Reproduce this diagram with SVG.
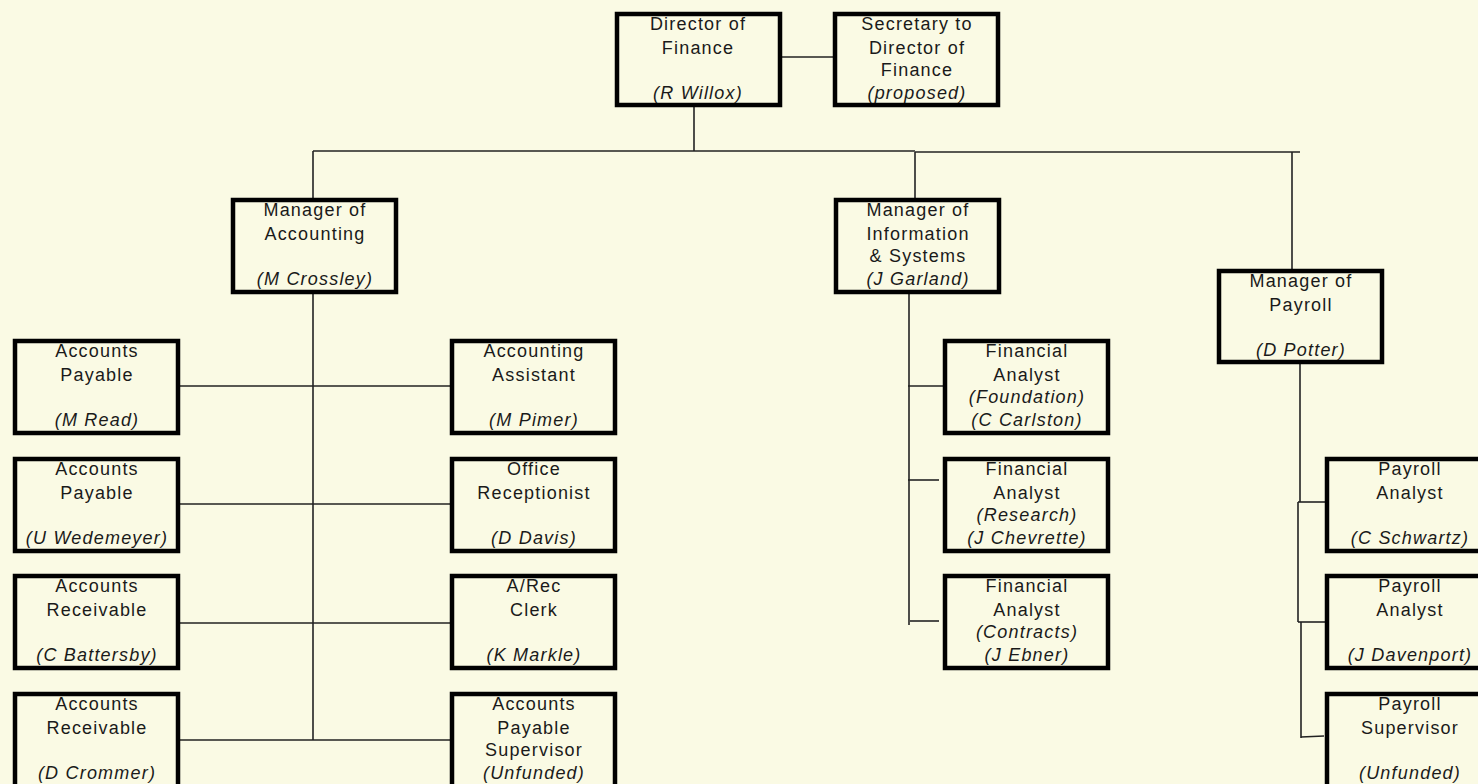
<svg xmlns="http://www.w3.org/2000/svg" width="1478" height="784" viewBox="0 0 1478 784">
<style>
.bg{fill:#FAFAE4}
.box{fill:#FAFAE4;stroke:#000;stroke-width:4.5}
.t{font-family:"Liberation Sans",Arial,sans-serif;font-size:18px;letter-spacing:1.2px;fill:#1a1a1a;text-anchor:middle}
.i{font-style:italic}
.c{fill:none;stroke:#222;stroke-width:1.6}
</style>
<rect class="bg" x="0" y="0" width="1478" height="784"/>
<g id="connectors">
<path class="c" d="M779 57H835"/>
<path class="c" d="M694 106V151"/>
<path class="c" d="M313 151H915"/>
<path class="c" d="M915 152H1300"/>
<path class="c" d="M313 151V198"/>
<path class="c" d="M915 152V198"/>
<path class="c" d="M1292 152V269"/>
<path class="c" d="M313 294V740"/>
<path class="c" d="M179 386H450"/>
<path class="c" d="M179 504H450"/>
<path class="c" d="M179 623H450"/>
<path class="c" d="M179 740H450"/>
<path class="c" d="M909 294V625"/>
<path class="c" d="M908 386H943"/>
<path class="c" d="M908 480H939"/>
<path class="c" d="M910 621H939"/>
<path class="c" d="M1300 363V502"/>
<path class="c" d="M1298 502H1326"/>
<path class="c" d="M1298 502V622"/>
<path class="c" d="M1298 622H1326"/>
<path class="c" d="M1301 622V738"/>
<path class="c" d="M1301 737L1324 736"/>
</g>
<g id="director">
<rect class="box" x="617" y="14" width="163" height="91"/>
<text class="t" x="698" y="30">Director of</text>
<text class="t" x="698" y="54">Finance</text>
<text class="t i" x="698" y="99">(R Willox)</text>
</g>
<g id="secretary">
<rect class="box" x="835" y="14" width="163" height="91"/>
<text class="t" x="917" y="30">Secretary to</text>
<text class="t" x="917" y="54">Director of</text>
<text class="t" x="917" y="76">Finance</text>
<text class="t i" x="917" y="99">(proposed)</text>
</g>
<g id="mgr-accounting">
<rect class="box" x="233" y="200" width="163" height="92"/>
<text class="t" x="315" y="216">Manager of</text>
<text class="t" x="315" y="240">Accounting</text>
<text class="t i" x="315" y="285">(M Crossley)</text>
</g>
<g id="mgr-info">
<rect class="box" x="836" y="200" width="163" height="92"/>
<text class="t" x="918" y="216">Manager of</text>
<text class="t" x="918" y="240">Information</text>
<text class="t" x="918" y="262">&amp; Systems</text>
<text class="t i" x="918" y="285">(J Garland)</text>
</g>
<g id="mgr-payroll">
<rect class="box" x="1219" y="271" width="163" height="91"/>
<text class="t" x="1301" y="287">Manager of</text>
<text class="t" x="1301" y="311">Payroll</text>
<text class="t i" x="1301" y="356">(D Potter)</text>
</g>
<g id="ap-read">
<rect class="box" x="15" y="341" width="163" height="92"/>
<text class="t" x="97" y="357">Accounts</text>
<text class="t" x="97" y="381">Payable</text>
<text class="t i" x="97" y="426">(M Read)</text>
</g>
<g id="ap-wedemeyer">
<rect class="box" x="15" y="459" width="163" height="92"/>
<text class="t" x="97" y="475">Accounts</text>
<text class="t" x="97" y="499">Payable</text>
<text class="t i" x="97" y="544">(U Wedemeyer)</text>
</g>
<g id="ar-battersby">
<rect class="box" x="15" y="576" width="163" height="92"/>
<text class="t" x="97" y="592">Accounts</text>
<text class="t" x="97" y="616">Receivable</text>
<text class="t i" x="97" y="661">(C Battersby)</text>
</g>
<g id="ar-crommer">
<rect class="box" x="15" y="694" width="163" height="100"/>
<text class="t" x="97" y="710">Accounts</text>
<text class="t" x="97" y="734">Receivable</text>
<text class="t i" x="97" y="779">(D Crommer)</text>
</g>
<g id="acct-assistant">
<rect class="box" x="452" y="341" width="163" height="92"/>
<text class="t" x="534" y="357">Accounting</text>
<text class="t" x="534" y="381">Assistant</text>
<text class="t i" x="534" y="426">(M Pimer)</text>
</g>
<g id="receptionist">
<rect class="box" x="452" y="459" width="163" height="92"/>
<text class="t" x="534" y="475">Office</text>
<text class="t" x="534" y="499">Receptionist</text>
<text class="t i" x="534" y="544">(D Davis)</text>
</g>
<g id="arec-clerk">
<rect class="box" x="452" y="576" width="163" height="92"/>
<text class="t" x="534" y="592">A/Rec</text>
<text class="t" x="534" y="616">Clerk</text>
<text class="t i" x="534" y="661">(K Markle)</text>
</g>
<g id="ap-supervisor">
<rect class="box" x="452" y="694" width="163" height="100"/>
<text class="t" x="534" y="710">Accounts</text>
<text class="t" x="534" y="734">Payable</text>
<text class="t" x="534" y="756">Supervisor</text>
<text class="t i" x="534" y="779">(Unfunded)</text>
</g>
<g id="fa-foundation">
<rect class="box" x="945" y="341" width="163" height="92"/>
<text class="t" x="1027" y="357">Financial</text>
<text class="t" x="1027" y="381">Analyst</text>
<text class="t i" x="1027" y="403">(Foundation)</text>
<text class="t i" x="1027" y="426">(C Carlston)</text>
</g>
<g id="fa-research">
<rect class="box" x="945" y="459" width="163" height="92"/>
<text class="t" x="1027" y="475">Financial</text>
<text class="t" x="1027" y="499">Analyst</text>
<text class="t i" x="1027" y="521">(Research)</text>
<text class="t i" x="1027" y="544">(J Chevrette)</text>
</g>
<g id="fa-contracts">
<rect class="box" x="945" y="576" width="163" height="92"/>
<text class="t" x="1027" y="592">Financial</text>
<text class="t" x="1027" y="616">Analyst</text>
<text class="t i" x="1027" y="638">(Contracts)</text>
<text class="t i" x="1027" y="661">(J Ebner)</text>
</g>
<g id="pa-schwartz">
<rect class="box" x="1327" y="459" width="163" height="92"/>
<text class="t" x="1410" y="475">Payroll</text>
<text class="t" x="1410" y="499">Analyst</text>
<text class="t i" x="1410" y="544">(C Schwartz)</text>
</g>
<g id="pa-davenport">
<rect class="box" x="1327" y="576" width="163" height="92"/>
<text class="t" x="1410" y="592">Payroll</text>
<text class="t" x="1410" y="616">Analyst</text>
<text class="t i" x="1410" y="661">(J Davenport)</text>
</g>
<g id="payroll-supervisor">
<rect class="box" x="1327" y="694" width="163" height="100"/>
<text class="t" x="1410" y="710">Payroll</text>
<text class="t" x="1410" y="734">Supervisor</text>
<text class="t i" x="1410" y="779">(Unfunded)</text>
</g>
</svg>
